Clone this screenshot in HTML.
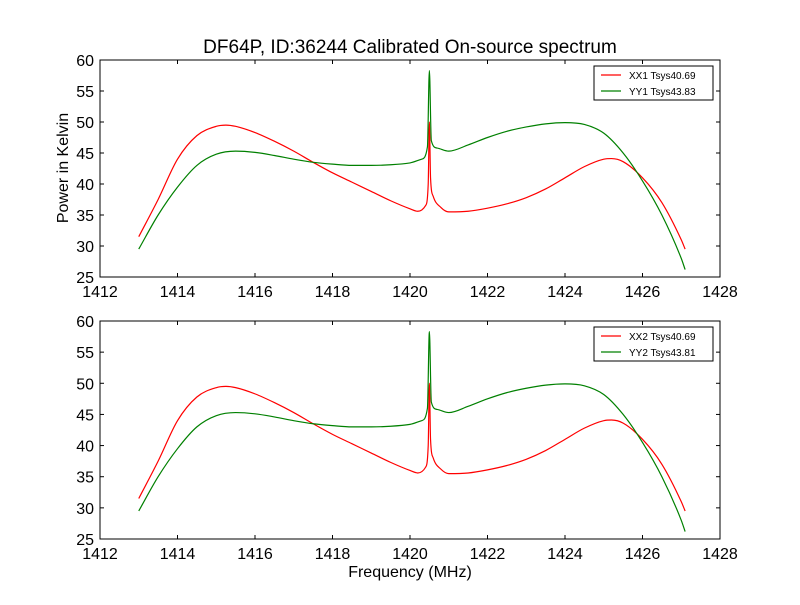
<!DOCTYPE html>
<html><head><meta charset="utf-8"><style>
body{margin:0;background:#fff}
svg text{font-family:"Liberation Sans",sans-serif;fill:#000}
</style></head><body>
<svg id="c" width="800" height="600"></svg>
<script>
const freqXX=[1413,1413.5,1414,1414.5,1415,1415.25,1415.5,1416,1416.5,1417,1417.5,1418,1418.5,1419,1419.5,1420,1420.2,1420.4,1420.47,1420.5,1420.53,1420.6,1420.8,1421,1421.5,1422,1422.5,1423,1423.5,1424,1424.5,1425,1425.2,1425.5,1426,1426.5,1427,1427.1];
const powXX=[31.5,37.5,44,47.8,49.3,49.5,49.3,48.3,46.9,45.3,43.5,41.8,40.3,38.8,37.3,36,35.6,36.5,40,50,41,38,36.2,35.5,35.6,36.1,36.8,37.8,39.2,41,42.8,44,44.1,43.6,41,37,31,29.5];
const freqYY=[1413,1413.5,1414,1414.5,1415,1415.5,1416,1416.5,1417,1417.5,1418,1418.5,1419,1419.5,1420,1420.3,1420.45,1420.5,1420.55,1420.7,1421,1421.5,1422,1422.5,1423,1423.5,1424,1424.5,1425,1425.5,1426,1426.5,1427,1427.1];
const powYY=[29.5,35,39.5,43,44.8,45.3,45.1,44.6,44,43.5,43.2,43.0,43.0,43.1,43.4,44,46,58.3,47,45.8,45.3,46.3,47.5,48.5,49.2,49.7,49.9,49.6,48.2,45,40.5,35,28,26.2];
const xTicks=[1412,1414,1416,1418,1420,1422,1424,1426,1428];
const yTicks=[25,30,35,40,45,50,55,60];
const NS='http://www.w3.org/2000/svg';
const svg=document.getElementById('c');
function mk(t,a,p){const e=document.createElementNS(NS,t);for(const k in a)e.setAttribute(k,a[k]);(p||svg).appendChild(e);return e;}
function monoPath(xs,ys){
  const n=xs.length,d=[],m=[];
  for(let i=0;i<n-1;i++)d.push((ys[i+1]-ys[i])/(xs[i+1]-xs[i]));
  m[0]=d[0];m[n-1]=d[n-2];
  for(let i=1;i<n-1;i++){m[i]=(d[i-1]*d[i]<=0)?0:(d[i-1]+d[i])/2;}
  for(let i=0;i<n-1;i++){if(d[i]===0){m[i]=0;m[i+1]=0;continue;}
    const a=m[i]/d[i],b=m[i+1]/d[i],s=a*a+b*b;if(s>9){const t=3/Math.sqrt(s);m[i]=t*a*d[i];m[i+1]=t*b*d[i];}}
  let p='M'+xs[0]+','+ys[0];
  for(let i=0;i<n-1;i++){const h=(xs[i+1]-xs[i])/3;
    p+=' C'+(xs[i]+h)+','+(ys[i]+m[i]*h)+' '+(xs[i+1]-h)+','+(ys[i+1]-m[i+1]*h)+' '+xs[i+1]+','+ys[i+1];}
  return p;
}
const L=100,R=720;
function panel(top,bot,idx,tsysX,tsysY){
  const g=mk('g',{});
  
  
  const sx=f=>L+(f-1412)*(R-L)/16, sy=v=>bot-(v-25)*(bot-top)/35;
  mk('rect',{x:L,y:top,width:R-L,height:bot-top,fill:'#fff'},g);
  const line=(fs,ps,col,name)=>{const p=mk('path',{d:monoPath(fs.map(sx),ps.map(sy)),fill:'none',stroke:col,'stroke-width':1.2},g);
    };
  line(freqXX,powXX,'#f00','series-xx'+idx);
  line(freqYY,powYY,'#008000','series-yy'+idx);
  const fr=mk('rect',{x:L,y:top,width:R-L,height:bot-top,fill:'none',stroke:'#000','stroke-width':1},g);
  
  xTicks.forEach(t=>{const x=sx(t);mk('line',{x1:x,x2:x,y1:bot,y2:bot-4,stroke:'#000'},g);mk('line',{x1:x,x2:x,y1:top,y2:top+4,stroke:'#000'},g);
    const tx=mk('text',{x:x,y:bot+20,'text-anchor':'middle','font-size':16},g);tx.textContent=t;
    });
  yTicks.forEach(t=>{const y=sy(t);mk('line',{x1:L,x2:L+4,y1:y,y2:y,stroke:'#000'},g);mk('line',{x1:R,x2:R-4,y1:y,y2:y,stroke:'#000'},g);
    const tx=mk('text',{x:L-6,y:y+6,'text-anchor':'end','font-size':16},g);tx.textContent=t;
    });
  const lg=mk('g',{},g);
  mk('rect',{x:594,y:top+6,width:119,height:34,fill:'#fff',stroke:'#000'},lg);
  mk('line',{x1:601,x2:621,y1:top+15,y2:top+15,stroke:'#f00','stroke-width':1.2},lg);
  mk('line',{x1:601,x2:621,y1:top+31,y2:top+31,stroke:'#008000','stroke-width':1.2},lg);
  const a=mk('text',{x:629,y:top+19,'font-size':10},lg);a.textContent='XX'+idx+' Tsys'+tsysX;
  
  const b=mk('text',{x:629,y:top+35,'font-size':10},lg);b.textContent='YY'+idx+' Tsys'+tsysY;
  
}
panel(60,277,1,'40.69','43.83');
panel(321,539,2,'40.69','43.81');
let t=mk('text',{x:410,y:53,'text-anchor':'middle','font-size':19});t.textContent='DF64P, ID:36244 Calibrated On-source spectrum';

t=mk('text',{x:410,y:577,'text-anchor':'middle','font-size':16});t.textContent='Frequency (MHz)';

t=mk('text',{x:68,y:168,'text-anchor':'middle','font-size':16,transform:'rotate(-90 68 168)'});t.textContent='Power in Kelvin';

</script>
</body></html>
